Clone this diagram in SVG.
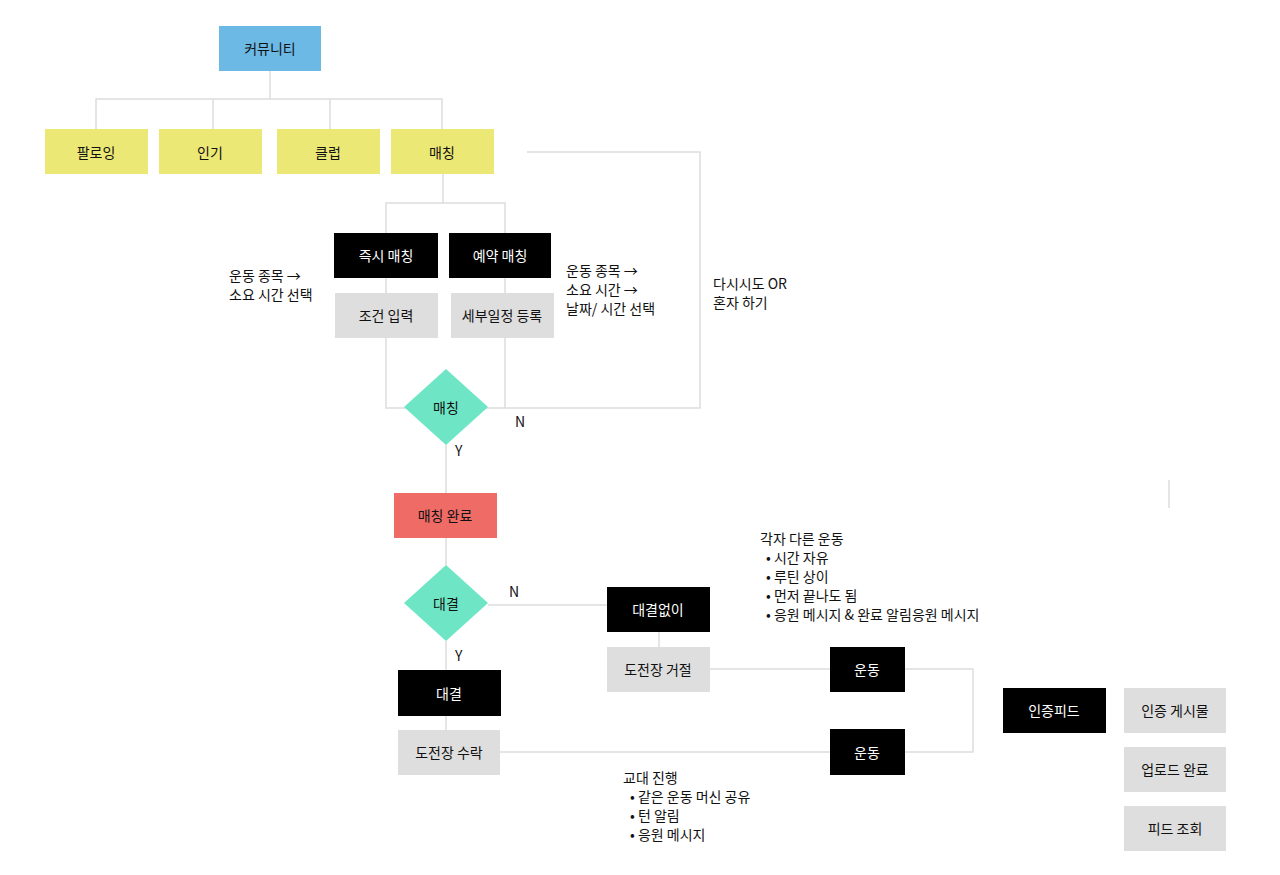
<svg xmlns="http://www.w3.org/2000/svg" width="1280" height="875" viewBox="0 0 1280 875">
<style>
text{font-family:"Noto Sans CJK KR","Noto Sans",sans-serif;font-size:14px;fill:#111}
.c{text-anchor:middle;dominant-baseline:central}
.w{fill:#fff}
.k{fill:#000}
.g{fill:#dedede}
.y{fill:#ece876}
.ln{fill:none;stroke:#ddd;stroke-width:1.5}
</style>
<rect width="1280" height="875" fill="#fff"/>
<g id="connectors" class="ln">
<path d="M270 71V99M96 129V99H442V129M213 99V129M330 99V129"/>
<path d="M443 174V203M386 233V203H505V233"/>
<path d="M386 278V293M505 278V293M386 338V408H700V152H527M505 338V408"/>
<path d="M446 445V493M446 538V565M488 605H607M446 641V670M446 716V730M659 632V647"/>
<path d="M710 669H830M905 669H973V752H905M500 752H830"/>
<path d="M1169 480V508"/>
</g>
<g id="n1"><rect x="219" y="26" width="102" height="45" fill="#6cb9e6"/><text class="c" x="270" y="48">커뮤니티</text></g>
<g id="n2"><rect class="y" x="45" y="129" width="103" height="45"/><text class="c" x="96" y="152">팔로잉</text></g>
<g id="n3"><rect class="y" x="159" y="129" width="103" height="45"/><text class="c" x="210" y="152">인기</text></g>
<g id="n4"><rect class="y" x="277" y="129" width="103" height="45"/><text class="c" x="328" y="152">클럽</text></g>
<g id="n5"><rect class="y" x="391" y="129" width="103" height="45"/><text class="c" x="442" y="152">매칭</text></g>
<g id="n6"><rect class="k" x="334" y="233" width="104" height="45"/><text class="c w" x="386" y="255">즉시 매칭</text></g>
<g id="n7"><rect class="k" x="449" y="233" width="102" height="45"/><text class="c w" x="500" y="255">예약 매칭</text></g>
<g id="n8"><rect class="g" x="335" y="293" width="103" height="45"/><text class="c" x="386" y="315">조건 입력</text></g>
<g id="n9"><rect class="g" x="451" y="293" width="103" height="45"/><text class="c" x="502" y="315">세부일정 등록</text></g>
<g id="n10"><path d="M446 369L488 407L446 445L404 407Z" fill="#6ee6c6"/><text class="c" x="446" y="407">매칭</text></g>
<g id="n11"><rect x="394" y="493" width="103" height="45" fill="#ef6b66"/><text class="c" x="445" y="515">매칭 완료</text></g>
<g id="n12"><path d="M446 565L488 603L446 641L404 603Z" fill="#6ee6c6"/><text class="c" x="446" y="603">대결</text></g>
<g id="n13"><rect class="k" x="607" y="587" width="103" height="45"/><text class="c w" x="658" y="609">대결없이</text></g>
<g id="n14"><rect class="g" x="607" y="647" width="103" height="45"/><text class="c" x="658" y="669">도전장 거절</text></g>
<g id="n15"><rect class="k" x="398" y="670" width="103" height="46"/><text class="c w" x="449" y="693">대결</text></g>
<g id="n16"><rect class="g" x="398" y="730" width="102" height="45"/><text class="c" x="449" y="752">도전장 수락</text></g>
<g id="n17"><rect class="k" x="830" y="647" width="75" height="45"/><text class="c w" x="867" y="669">운동</text></g>
<g id="n18"><rect class="k" x="830" y="729" width="75" height="46"/><text class="c w" x="867" y="752">운동</text></g>
<g id="n19"><rect class="k" x="1003" y="688" width="103" height="45"/><text class="c w" x="1054" y="710">인증피드</text></g>
<g id="n20"><rect class="g" x="1124" y="688" width="102" height="45"/><text class="c" x="1175" y="710">인증 게시물</text></g>
<g id="n21"><rect class="g" x="1124" y="747" width="102" height="45"/><text class="c" x="1175" y="769">업로드 완료</text></g>
<g id="n22"><rect class="g" x="1124" y="806" width="102" height="45"/><text class="c" x="1175" y="828">피드 조회</text></g>
<g id="labels">
<text x="229" y="281">운동 종목 →</text>
<text x="229" y="300">소요 시간 선택</text>
<text x="566" y="276">운동 종목 →</text>
<text x="566" y="295">소요 시간 →</text>
<text x="566" y="314">날짜/ 시간 선택</text>
<text x="713" y="289">다시시도 OR</text>
<text x="713" y="308">혼자 하기</text>
<text x="515" y="427">N</text>
<text x="455" y="456">Y</text>
<text x="509" y="597">N</text>
<text x="455" y="661">Y</text>
<text x="760" y="544">각자 다른 운동</text>
<text x="766" y="563">•  시간 자유</text>
<text x="766" y="582">•  루틴 상이</text>
<text x="766" y="601">•  먼저 끝나도 됨</text>
<text x="766" y="620">•  응원 메시지 &amp; 완료 알림응원 메시지</text>
<text x="623" y="783">교대 진행</text>
<text x="630" y="802">•  같은 운동 머신 공유</text>
<text x="630" y="821">•  턴 알림</text>
<text x="630" y="840">•  응원 메시지</text>
</g>
</svg>
